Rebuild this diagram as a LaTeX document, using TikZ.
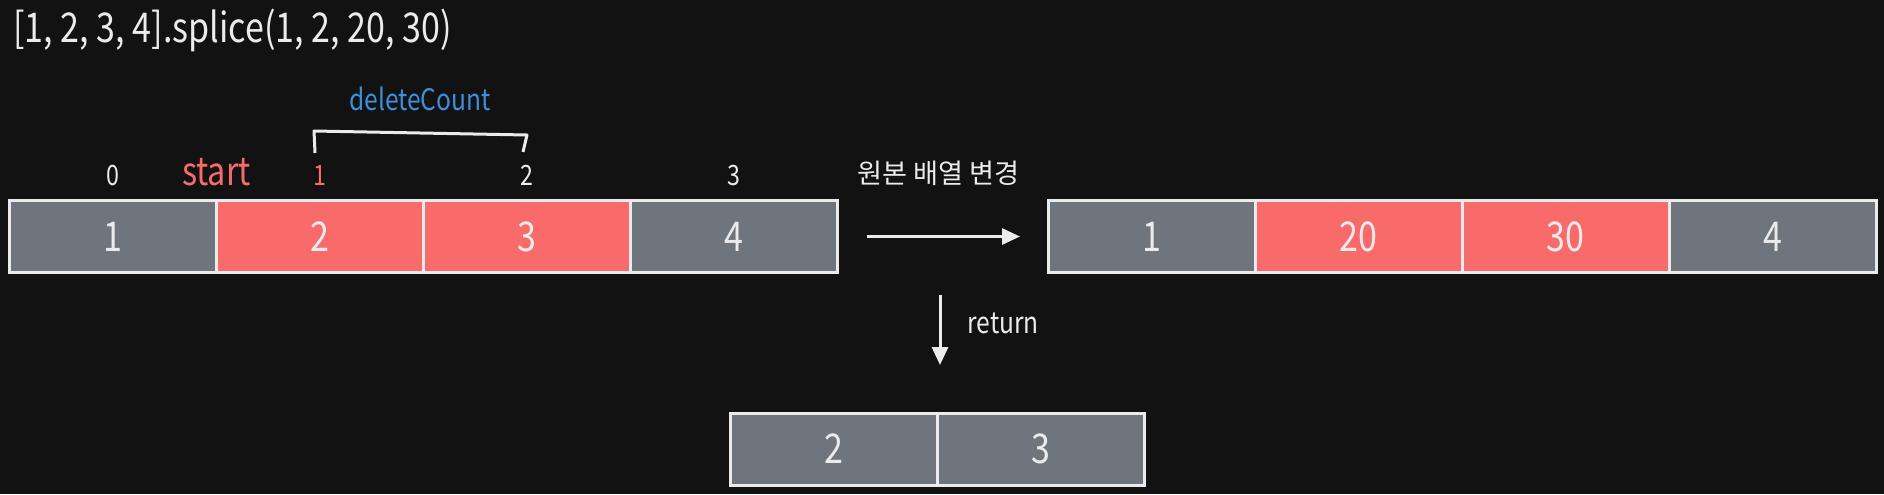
\documentclass[tikz,border=0pt]{standalone}
\usepackage{fontspec}
\setmainfont[FakeStretch=0.83]{Noto Sans CJK KR}
\newfontfamily\kofont{Noto Sans CJK KR}
\usetikzlibrary{positioning,arrows.meta}
\definecolor{bgdark}{HTML}{121212}
\definecolor{cellgray}{HTML}{6E757D}
\definecolor{cellred}{HTML}{F96B6B}
\definecolor{linewhite}{HTML}{EBEBEB}
\definecolor{countblue}{HTML}{3D8FDB}

\begin{document}
\begin{tikzpicture}[x=0.5pt, y=-0.5pt,
  cell/.style={draw=linewhite, line width=1.5pt, minimum width=103.5pt, minimum height=36pt, inner sep=0pt, outer sep=0pt, text=linewhite, font=\fontsize{20.5}{24}\selectfont},
  gcell/.style={cell, fill=cellgray},
  rcell/.style={cell, fill=cellred},
  idx/.style={anchor=base, text=linewhite, font=\fontsize{14}{16}\selectfont},
  wline/.style={draw=linewhite, line width=1.5pt},
  tip/.style={-{Triangle[length=9pt,width=8pt]}}]
\fill[bgdark] (0,0) rectangle (1884,494); % background
\useasboundingbox (0,0) rectangle (1884,494);
\node[anchor=base west, inner sep=0pt, text=linewhite, font=\fontsize{20.5}{24}\selectfont] (title) at (13,42) {[1, 2, 3, 4].splice(1, 2, 20, 30)}; % call
% original array
\node[gcell] (a1) at (113,236.5) {1};
\node[rcell, right=0pt of a1] (a2) {2};
\node[rcell, right=0pt of a2] (a3) {3};
\node[gcell, right=0pt of a3] (a4) {4};
\node[idx] (i0) at (a1 |- 0,185) {0}; % indices
\node[idx, text=cellred] (i1) at (a2 |- 0,185) {1};
\node[idx] (i2) at (a3 |- 0,185) {2};
\node[idx] (i3) at (a4 |- 0,185) {3};
\node[idx, text=cellred, font=\fontsize{19.5}{22}\selectfont] (start) at (a1.east |- 0,185) {start};
\draw[wline, line join=round] (315,153) -- (314,131) -- (527,135) -- (523,152); % bracket
\node[anchor=base, text=countblue, font=\fontsize{14.8}{17}\selectfont] (count) at (420,110) {deleteCount};
% changed array
\node[gcell] (n1) at (1151.5,236.5) {1};
\node[rcell, right=0pt of n1] (n2) {20};
\node[rcell, right=0pt of n2] (n3) {30};
\node[gcell, right=0pt of n3] (n4) {4};
\draw[wline, tip] ([xshift=14.75pt]a4.east) -- ([xshift=-14pt]n1.west); % change arrow
\node[anchor=base west, inner sep=0pt, text=linewhite, font=\kofont\fontsize{13.6}{16}\selectfont] (change) at (857,183) {원본 배열 변경};
% returned array
\node[gcell] (r1) at (834,449) {2};
\node[gcell, right=0pt of r1] (r2) {3};
\coordinate (ret) at (940,295);
\draw[wline, tip, shorten >=24pt] (ret) -- (ret |- r1.north); % return arrow
\node[anchor=base west, inner sep=0pt, text=linewhite, font=\fontsize{14.8}{17}\selectfont] (retlabel) at (967,333) {return};
\end{tikzpicture}
\end{document}
